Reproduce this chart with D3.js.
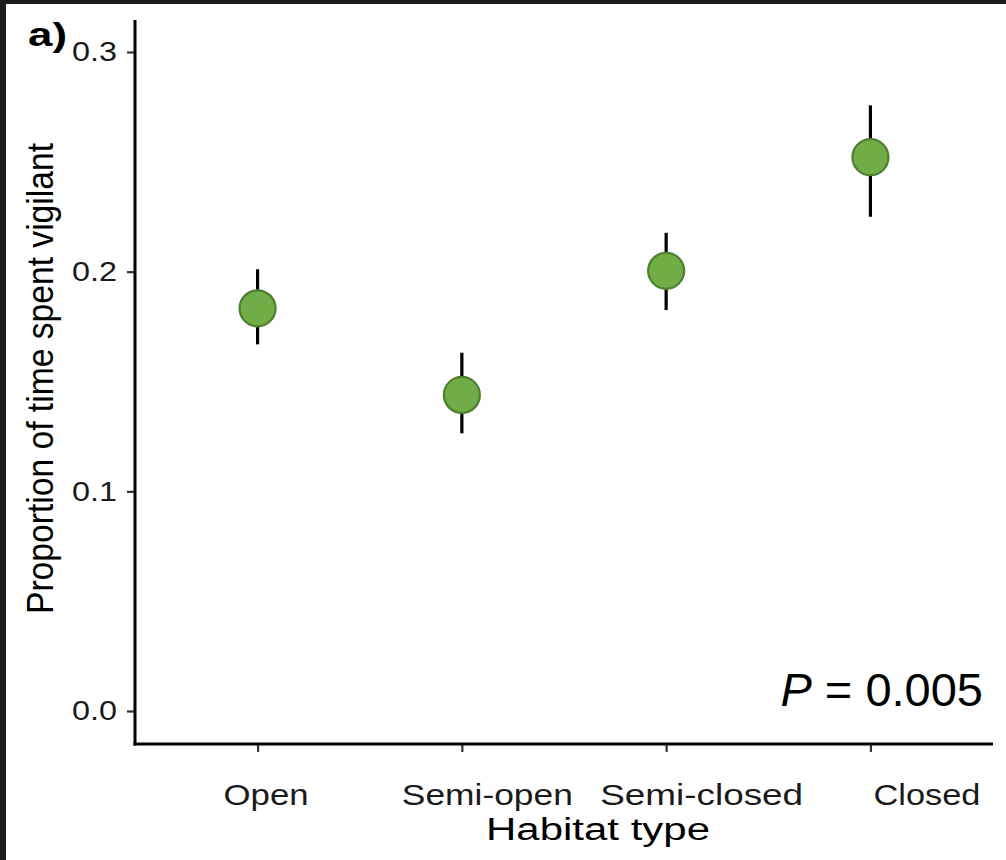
<!DOCTYPE html>
<html>
<head>
<meta charset="utf-8">
<script src="https://cdn.jsdelivr.net/npm/d3@7"></script>
<style>
  html, body { margin: 0; padding: 0; background: #fff; }
  svg { display: block; font-family: "Liberation Sans", Arial, Helvetica, sans-serif; }
</style>
</head>
<body>
<svg id="chart" width="1006" height="860"></svg>
<script>
// ---- data ----
const categories = ["Open", "Semi-open", "Semi-closed", "Closed"];
const means = [0.1833, 0.1439, 0.2004, 0.2521];
const lowers = [0.1669, 0.1264, 0.1825, 0.2250];
const uppers = [0.2011, 0.1631, 0.2177, 0.2757];
const yTicks = [0.0, 0.1, 0.2, 0.3];
const yTickLabels = ["0.0", "0.1", "0.2", "0.3"];
const pLabel = "0.005";

// ---- layout ----
const W = 1006, H = 860;
const xLeft = 135, xRight = 993;
const yZeroPx = 711, yTopPx = 52;
const xLabelShift = [8, 25, 35, 56];
const xLabelLen = [85, 171, 203, 107];

const svg = d3.select("#chart");

// dark frame on left/top like the reference screenshot
svg.append("rect").attr("x", 0).attr("y", 0).attr("width", W).attr("height", H).attr("fill", "#fff");
svg.append("rect").attr("x", 0).attr("y", 0).attr("width", 6).attr("height", H).attr("fill", "#1c1c1c");
svg.append("rect").attr("x", 0).attr("y", 0).attr("width", W).attr("height", 4).attr("fill", "#1c1c1c");

const x = d3.scalePoint().domain(categories).range([xLeft, xRight]).padding(0.6);
const y = d3.scaleLinear().domain([0, 0.3]).range([yZeroPx, yTopPx]);
const yLo = -0.015, yHi = 0.3146;
const xAxisY = y(yLo);

// y axis
const gy = svg.append("g").attr("transform", `translate(${xLeft},0)`)
  .call(d3.axisLeft(y).tickValues(yTicks).tickSize(8).tickPadding(10)
        .tickFormat((d, i) => yTickLabels[i]));
gy.select(".domain").remove();
gy.selectAll(".tick line").attr("stroke", "#333").attr("stroke-width", 2.2);
gy.selectAll(".tick text")
  .attr("font-size", 28).attr("fill", "#1a1a1a")
  .attr("font-family", "Liberation Sans, Arial, sans-serif")
  .attr("textLength", 45).attr("lengthAdjust", "spacingAndGlyphs");

// x axis
const gx = svg.append("g").attr("transform", `translate(0,${xAxisY})`)
  .call(d3.axisBottom(x).tickSize(8).tickPadding(10));
gx.select(".domain").remove();
gx.selectAll(".tick line").attr("stroke", "#333").attr("stroke-width", 2.2);
gx.selectAll(".tick text")
  .attr("font-size", 30).attr("fill", "#1a1a1a")
  .attr("font-family", "Liberation Sans, Arial, sans-serif")
  .attr("y", 61).attr("dy", 0)
  .attr("x", (d, i) => xLabelShift[i])
  .attr("textLength", (d, i) => xLabelLen[i]).attr("lengthAdjust", "spacingAndGlyphs");

// axis lines
svg.append("line").attr("x1", xLeft).attr("x2", xLeft)
  .attr("y1", y(yHi)).attr("y2", xAxisY + 1.5)
  .attr("stroke", "#000").attr("stroke-width", 3);
svg.append("line").attr("x1", xLeft - 1.5).attr("x2", xRight)
  .attr("y1", xAxisY).attr("y2", xAxisY)
  .attr("stroke", "#000").attr("stroke-width", 3);

// error bars
svg.append("g").selectAll("line").data(categories).join("line")
  .attr("x1", d => x(d)).attr("x2", d => x(d))
  .attr("y1", (d, i) => y(lowers[i])).attr("y2", (d, i) => y(uppers[i]))
  .attr("stroke", "#000").attr("stroke-width", 3.2);

// points
svg.append("g").selectAll("circle").data(categories).join("circle")
  .attr("cx", d => x(d)).attr("cy", (d, i) => y(means[i]))
  .attr("r", 18)
  .attr("fill", "#70ad47").attr("stroke", "#4f7f30").attr("stroke-width", 2.2);

// axis titles
svg.append("text")
  .attr("x", 598).attr("y", 840)
  .attr("text-anchor", "middle").attr("font-size", 31).attr("fill", "#000")
  .attr("textLength", 224).attr("lengthAdjust", "spacingAndGlyphs")
  .text("Habitat type");

svg.append("g").attr("transform", "translate(53,378.5) rotate(-90)")
  .append("text")
  .attr("x", 0).attr("y", 0)
  .attr("text-anchor", "middle").attr("font-size", 37).attr("fill", "#000")
  .attr("textLength", 471).attr("lengthAdjust", "spacingAndGlyphs")
  .text("Proportion of time spent vigilant");

// panel label
svg.append("text")
  .attr("x", 28).attr("y", 46)
  .attr("font-size", 33).attr("font-weight", "bold").attr("fill", "#000")
  .attr("font-family", "Liberation Sans, Arial, sans-serif")
  .attr("textLength", 39).attr("lengthAdjust", "spacingAndGlyphs")
  .text("a)");

// P value annotation
const pt = svg.append("text")
  .attr("x", 983).attr("y", 706)
  .attr("text-anchor", "end").attr("font-size", 47).attr("fill", "#000");
pt.append("tspan").attr("font-style", "italic").text("P");
pt.append("tspan").text(" = " + pLabel);
</script>
</body>
</html>
